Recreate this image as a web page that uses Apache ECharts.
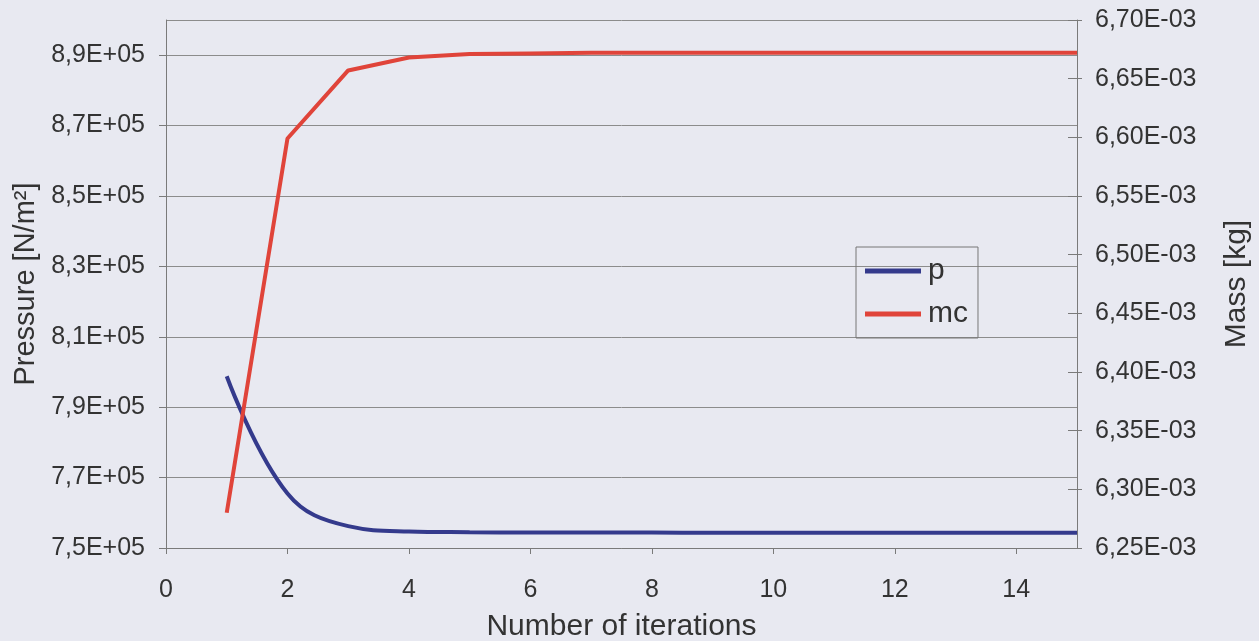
<!DOCTYPE html>
<html>
<head>
<meta charset="utf-8">
<script src="https://cdn.jsdelivr.net/npm/echarts@6/dist/echarts.min.js"></script>
<style>
  html, body { margin: 0; padding: 0; background: #e8e9f1; }
  #chart { width: 1259px; height: 641px; }
</style>
</head>
<body>
<div id="chart"></div>
<script>
// ---- data ----
const iterations = [1, 2, 3, 4, 5, 6, 7, 8, 9, 10, 11, 12, 13, 14, 15];
const pressure = [798800, 765500, 756200, 754700, 754500, 754400, 754400, 754400, 754300, 754300, 754300, 754300, 754300, 754300, 754300];
const mass = [0.006280, 0.006599, 0.006657, 0.006668, 0.006671, 0.0066715, 0.006672, 0.006672, 0.006672, 0.006672, 0.006672, 0.006672, 0.006672, 0.006672, 0.006672];
const seriesNames = ['p', 'mc'];
const xTitle = 'Number of iterations';
const yLeftTitle = 'Pressure [N/m²]';
const yRightTitle = 'Mass [kg]';

const FONT = '"Liberation Sans", Arial, sans-serif';
const TXT = '#333333';
const AX = '#7a7a7a';

function fmtLeft(v) {
  return (v / 1e5).toFixed(1).replace('.', ',') + 'E+05';
}
function fmtRight(v) {
  return (v * 1000).toFixed(2).replace('.', ',') + 'E-03';
}

const chart = echarts.init(document.getElementById('chart'), null, { renderer: 'canvas' });
chart.setOption({
  backgroundColor: '#e8e9f1',
  animation: false,
  textStyle: { fontFamily: FONT, color: TXT },
  grid: { left: 166, right: 182, top: 20, bottom: 93, containLabel: false, outerBoundsMode: 'none' },
  legend: {
    orient: 'vertical',
    left: 856,
    top: 247,
    padding: [9, 10, 9, 9],
    itemGap: 13,
    itemWidth: 56,
    itemHeight: 5,
    icon: 'rect',
    borderColor: '#777777',
    borderWidth: 1,
    textStyle: { fontFamily: FONT, fontSize: 30, color: TXT, padding: [0, 0, 0, 2] },
    data: seriesNames
  },
  xAxis: {
    type: 'value',
    min: 0, max: 15, interval: 2,
    name: xTitle,
    nameLocation: 'middle',
    nameGap: 64,
    nameTextStyle: { fontFamily: FONT, fontSize: 30, color: TXT },
    axisLine: { show: true, lineStyle: { color: AX, width: 1 } },
    axisTick: { show: true, inside: false, length: 6, lineStyle: { color: AX } },
    axisLabel: { fontFamily: FONT, fontSize: 25, color: TXT, margin: 30, showMaxLabel: false,
      formatter: v => (v === 15 ? '' : String(v)) },
    splitLine: { show: false }
  },
  yAxis: [
    {
      type: 'value',
      position: 'left',
      min: 750000, max: 900000, interval: 20000,
      name: yLeftTitle,
      nameLocation: 'middle',
      nameRotate: 90,
      nameGap: 117,
      nameTextStyle: { fontFamily: FONT, fontSize: 29, color: TXT },
      axisLine: { show: true, lineStyle: { color: AX, width: 1 } },
      axisTick: { show: true, inside: false, length: 7, lineStyle: { color: AX } },
      axisLabel: { fontFamily: FONT, fontSize: 25, color: TXT, margin: 21, showMaxLabel: false,
        formatter: v => (v === 900000 ? '' : fmtLeft(v)) },
      splitLine: { show: true, lineStyle: { color: '#8c8c8c', width: 1 } }
    },
    {
      type: 'value',
      position: 'right',
      min: 0.00625, max: 0.0067, interval: 0.00005,
      name: yRightTitle,
      nameLocation: 'middle',
      nameRotate: 90,
      nameGap: 145,
      nameTextStyle: { fontFamily: FONT, fontSize: 30, color: TXT },
      axisLine: { show: true, lineStyle: { color: AX, width: 1 } },
      axisTick: { show: true, inside: false, length: 5, lineStyle: { color: AX } },
      axisLabel: { fontFamily: FONT, fontSize: 25, color: TXT, margin: 18, formatter: fmtRight },
      splitLine: { show: false }
    },
    {
      type: 'value',
      position: 'right',
      min: 0.00625, max: 0.0067, interval: 0.00005,
      axisLine: { show: false },
      axisTick: { show: true, inside: true, length: 9, lineStyle: { color: AX } },
      axisLabel: { show: false },
      splitLine: { show: false }
    }
  ],
  series: [
    {
      name: seriesNames[0],
      type: 'line',
      yAxisIndex: 0,
      data: iterations.map((x, i) => [x, pressure[i]]),
      showSymbol: false,
      smooth: 0.4,
      lineStyle: { color: '#343a8c', width: 4 },
      itemStyle: { color: '#343a8c' },
      z: 3
    },
    {
      name: seriesNames[1],
      type: 'line',
      yAxisIndex: 1,
      data: iterations.map((x, i) => [x, mass[i]]),
      showSymbol: false,
      smooth: false,
      lineStyle: { color: '#e0443a', width: 4 },
      itemStyle: { color: '#e0443a' },
      z: 4
    }
  ]
});
</script>
</body>
</html>
